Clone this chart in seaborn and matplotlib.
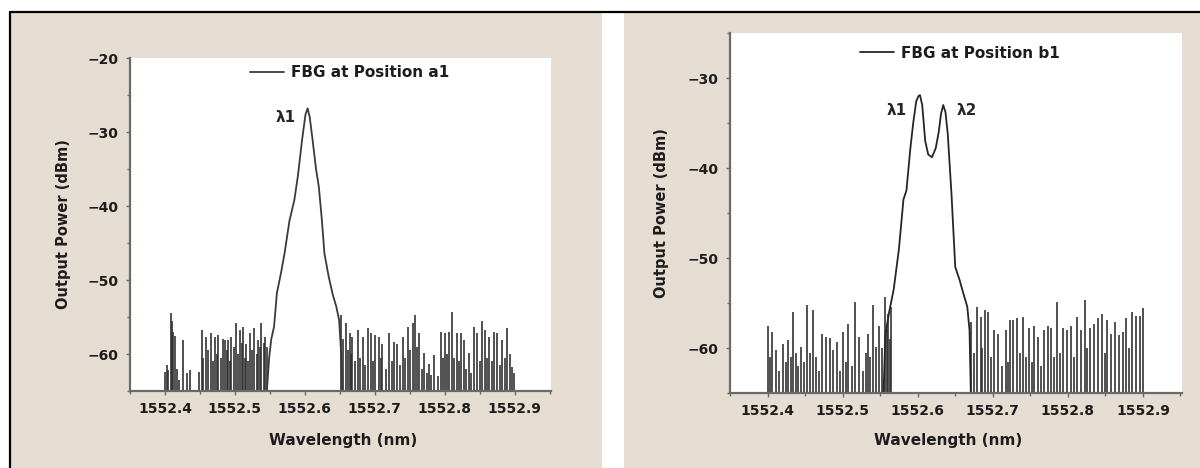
import numpy as np
import pandas as pd
import seaborn as sns
import matplotlib.pyplot as plt
from matplotlib.patches import Rectangle
from matplotlib.lines import Line2D
from matplotlib.ticker import MultipleLocator

# ---- panel a1 : single reflection peak ----
a1_peak_wl = [1552.545, 1552.549, 1552.552, 1552.556, 1552.560, 1552.566, 1552.571, 1552.578,
              1552.585, 1552.590, 1552.596, 1552.601, 1552.604, 1552.607, 1552.611, 1552.616,
              1552.620, 1552.624, 1552.628, 1552.634, 1552.640, 1552.645, 1552.649, 1552.652, 1552.654]
a1_peak_db = [-66.0, -60.5, -58.0, -56.3, -51.8, -49.0, -46.4, -42.0,
              -39.2, -36.0, -31.1, -27.6, -26.8, -28.0, -31.0, -35.0,
              -37.4, -41.5, -46.4, -49.5, -52.0, -53.6, -55.4, -60.0, -66.0]

a1_noise_wl = [1552.400, 1552.403, 1552.405, 1552.408, 1552.410, 1552.412, 1552.414, 1552.417,
               1552.420, 1552.426, 1552.431, 1552.436, 1552.448, 1552.453, 1552.455, 1552.459,
               1552.462, 1552.466, 1552.469, 1552.471, 1552.474, 1552.476, 1552.480, 1552.483,
               1552.486, 1552.488, 1552.490, 1552.493, 1552.495, 1552.498, 1552.502, 1552.505,
               1552.507, 1552.510, 1552.512, 1552.514, 1552.516, 1552.519, 1552.521, 1552.524,
               1552.528, 1552.531, 1552.533, 1552.536, 1552.538, 1552.541, 1552.543, 1552.546,
               1552.652, 1552.655, 1552.659, 1552.662, 1552.664, 1552.666, 1552.668, 1552.672,
               1552.676, 1552.679, 1552.683, 1552.686, 1552.690, 1552.694, 1552.698, 1552.701,
               1552.706, 1552.709, 1552.711, 1552.716, 1552.720, 1552.724, 1552.728, 1552.732,
               1552.736, 1552.740, 1552.743, 1552.747, 1552.750, 1552.754, 1552.758, 1552.761,
               1552.763, 1552.767, 1552.770, 1552.774, 1552.777, 1552.781, 1552.785, 1552.790,
               1552.794, 1552.797, 1552.801, 1552.804, 1552.806, 1552.811, 1552.814, 1552.818,
               1552.820, 1552.823, 1552.827, 1552.831, 1552.835, 1552.838, 1552.842, 1552.846,
               1552.850, 1552.854, 1552.858, 1552.861, 1552.863, 1552.867, 1552.870, 1552.875,
               1552.879, 1552.882, 1552.886, 1552.889, 1552.893, 1552.896, 1552.899]
a1_noise_db = [-62.4, -61.5, -62.2, -54.5, -55.5, -57.0, -57.5, -62.0,
               -63.5, -58.1, -62.5, -62.2, -62.4, -56.8, -60.5, -57.7,
               -59.5, -57.2, -61.0, -57.7, -60.0, -57.4, -60.5, -58.0,
               -58.1, -59.5, -58.1, -61.0, -57.7, -59.0, -55.8, -60.0,
               -56.8, -58.5, -56.3, -60.5, -58.6, -61.0, -57.2, -59.5,
               -56.5, -60.0, -58.1, -59.0, -55.8, -58.5, -57.7, -59.0,
               -54.7, -58.0, -55.8, -59.5, -57.2, -60.0, -57.7, -61.0,
               -56.8, -60.5, -57.7, -61.5, -56.5, -57.2, -61.0, -57.4,
               -57.7, -60.5, -58.6, -62.0, -57.2, -61.0, -58.4, -58.6,
               -61.5, -57.7, -60.5, -56.3, -59.5, -55.8, -54.7, -59.0,
               -57.2, -62.0, -59.9, -62.5, -61.3, -62.8, -60.1, -63.0,
               -57.0, -60.5, -57.2, -60.0, -57.0, -54.3, -60.5, -57.2,
               -61.0, -57.2, -58.1, -62.0, -59.9, -62.5, -56.3, -57.2,
               -61.0, -55.6, -56.8, -60.5, -57.7, -61.0, -57.0, -57.2,
               -61.5, -58.1, -60.5, -56.5, -60.0, -61.7, -62.5]

# ---- panel b1 : two reflection peaks ----
b1_peak_wl = [1552.554, 1552.557, 1552.562, 1552.568, 1552.575, 1552.581, 1552.585, 1552.590,
              1552.594, 1552.598, 1552.601, 1552.603, 1552.606, 1552.610, 1552.614, 1552.619,
              1552.624, 1552.628, 1552.631, 1552.634, 1552.637, 1552.640, 1552.645, 1552.650,
              1552.656, 1552.661, 1552.666, 1552.669, 1552.671]
b1_peak_db = [-66.0, -58.5, -56.0, -53.5, -49.0, -43.5, -42.5, -38.0,
              -35.0, -32.6, -32.0, -31.9, -33.0, -37.0, -38.5, -38.8,
              -37.8, -36.0, -34.0, -33.0, -33.8, -36.2, -42.9, -51.0,
              -52.5, -54.0, -55.4, -58.0, -66.0]

b1_noise_wl = [1552.400, 1552.403, 1552.406, 1552.411, 1552.415, 1552.420, 1552.424, 1552.427,
               1552.431, 1552.434, 1552.438, 1552.441, 1552.445, 1552.449, 1552.452, 1552.457,
               1552.461, 1552.465, 1552.468, 1552.472, 1552.478, 1552.483, 1552.487, 1552.492,
               1552.496, 1552.500, 1552.504, 1552.507, 1552.512, 1552.517, 1552.522, 1552.527,
               1552.531, 1552.534, 1552.537, 1552.540, 1552.545, 1552.549, 1552.552, 1552.556,
               1552.559, 1552.561, 1552.563, 1552.565,
               1552.671, 1552.675, 1552.679, 1552.684, 1552.686, 1552.689, 1552.694, 1552.698,
               1552.702, 1552.707, 1552.712, 1552.717, 1552.720, 1552.723, 1552.727, 1552.732,
               1552.736, 1552.740, 1552.744, 1552.748, 1552.752, 1552.755, 1552.760, 1552.764,
               1552.768, 1552.773, 1552.778, 1552.782, 1552.786, 1552.790, 1552.794, 1552.799,
               1552.804, 1552.808, 1552.812, 1552.817, 1552.823, 1552.826, 1552.829, 1552.835,
               1552.840, 1552.845, 1552.849, 1552.852, 1552.858, 1552.863, 1552.868, 1552.873,
               1552.878, 1552.882, 1552.885, 1552.891, 1552.896, 1552.900]
b1_noise_db = [-57.5, -61.0, -58.2, -60.2, -62.5, -59.5, -61.5, -59.1,
               -61.0, -56.0, -60.5, -62.0, -59.9, -61.5, -55.2, -60.6,
               -55.8, -61.0, -62.5, -58.4, -58.8, -58.9, -60.2, -59.3,
               -62.5, -58.2, -61.5, -57.3, -62.0, -54.9, -58.8, -62.5,
               -60.5, -58.4, -61.0, -55.2, -59.9, -57.6, -60.0, -54.3,
               -58.0, -56.2, -59.0, -55.4,
               -57.1, -60.5, -55.4, -56.5, -60.0, -55.8, -56.0, -61.0,
               -58.0, -58.4, -62.0, -58.0, -61.5, -56.9, -56.9, -56.7,
               -60.5, -56.5, -61.0, -57.8, -61.5, -57.5, -58.8, -62.0,
               -58.0, -57.5, -57.8, -61.0, -54.9, -60.5, -57.8, -58.0,
               -57.5, -61.0, -56.5, -58.0, -54.7, -60.0, -57.8, -57.3,
               -56.7, -56.2, -60.5, -56.9, -58.4, -57.1, -58.6, -58.2,
               -56.7, -60.0, -56.0, -56.4, -56.4, -55.6]

NOISE_FLOOR = -66
BEIGE = "#e5ddd1"

sns.set_theme(style="ticks")
plt.rcParams["font.family"] = ["DejaVu Sans"]
plt.rcParams["font.weight"] = "bold"

fig = plt.figure(figsize=(12, 4.68), dpi=100)
fig.patch.set_facecolor("white")

# beige cells + black frame lines of the original figure (kept behind the axes)
fig.patches.append(Rectangle((10 / 1200, 0), 592 / 1200, 456 / 468, transform=fig.transFigure,
                             facecolor=BEIGE, edgecolor="none", zorder=-10))
fig.patches.append(Rectangle((624 / 1200, 0), 576 / 1200, 456 / 468, transform=fig.transFigure,
                             facecolor=BEIGE, edgecolor="none", zorder=-10))
fig.add_artist(Line2D([10 / 1200, 1], [456 / 468, 456 / 468], color="black", lw=1.6, zorder=-5))
fig.add_artist(Line2D([10 / 1200, 10 / 1200], [0, 456 / 468], color="black", lw=1.6, zorder=-5))

ax1 = fig.add_axes([130 / 1200, 77 / 468, 421 / 1200, 333 / 468])
ax2 = fig.add_axes([730 / 1200, 75 / 468, 452 / 1200, 360 / 468])


def draw_panel(ax, peak_wl, peak_db, noise_wl, noise_db, label, color, ylim, leg_xy, ylab_x, xlab_xy):
    ax.set_facecolor("white")
    ax.vlines(noise_wl, NOISE_FLOOR, noise_db, color="#2e2e2e", lw=1.3, alpha=0.9)
    peak = pd.DataFrame({"wl": peak_wl, "db": peak_db})
    sns.lineplot(data=peak, x="wl", y="db", ax=ax, color=color, lw=1.3,
                 estimator=None, sort=False, label=label)
    ax.set_xlim(1552.35, 1552.952)
    ax.set_ylim(*ylim)
    ax.xaxis.set_major_locator(MultipleLocator(0.1))
    ax.xaxis.set_minor_locator(MultipleLocator(0.05))
    ax.yaxis.set_major_locator(MultipleLocator(10))
    ax.yaxis.set_minor_locator(MultipleLocator(5))
    ax.xaxis.set_major_formatter(plt.FuncFormatter(lambda v, p: f"{v:.1f}"))
    ax.yaxis.set_major_formatter(plt.FuncFormatter(lambda v, p: f"\u2212{abs(v):.0f}"))
    for s in ["top", "right"]:
        ax.spines[s].set_visible(False)
    for s in ["left", "bottom"]:
        ax.spines[s].set_color("#6a6a6a")
        ax.spines[s].set_linewidth(1.6)
    ax.tick_params(which="major", length=3, width=1, color="#6a6a6a", pad=5,
                   labelsize=10, labelcolor="#1c1c1c")
    ax.tick_params(which="minor", length=2, width=1, color="#6a6a6a")
    for t in ax.get_xticklabels() + ax.get_yticklabels():
        t.set_fontweight("bold")
    ax.set_xlabel("Wavelength (nm)", fontsize=11, fontweight="bold", color="#1c1c1c")
    ax.set_ylabel("Output Power (dBm)", fontsize=10.5, fontweight="bold", color="#1c1c1c")
    ax.xaxis.set_label_coords(*xlab_xy)
    ax.yaxis.set_label_coords(ylab_x, 0.5)
    leg = ax.legend(loc="center left", bbox_to_anchor=leg_xy, frameon=False, borderpad=0,
                    borderaxespad=0, handlelength=2.2, handletextpad=0.5,
                    prop={"size": 11, "weight": "bold"})
    for t in leg.get_texts():
        t.set_color("#1c1c1c")


draw_panel(ax1, a1_peak_wl, a1_peak_db, a1_noise_wl, a1_noise_db, "FBG at Position a1",
           "#3a3a3a", (-65, -20), (0.285, 0.955), -0.14, (0.507, -0.125))
draw_panel(ax2, b1_peak_wl, b1_peak_db, b1_noise_wl, b1_noise_db, "FBG at Position b1",
           "#262626", (-65, -25), (0.288, 0.944), -0.135, (0.483, -0.112))

ax1.text(1552.572, -28.1, "\u03bb1", ha="center", va="center", fontsize=11, fontweight="bold")
ax2.text(1552.572, -33.6, "\u03bb1", ha="center", va="center", fontsize=11, fontweight="bold")
ax2.text(1552.665, -33.6, "\u03bb2", ha="center", va="center", fontsize=11, fontweight="bold")

fig.savefig("out.png", dpi=100, facecolor=fig.get_facecolor())
